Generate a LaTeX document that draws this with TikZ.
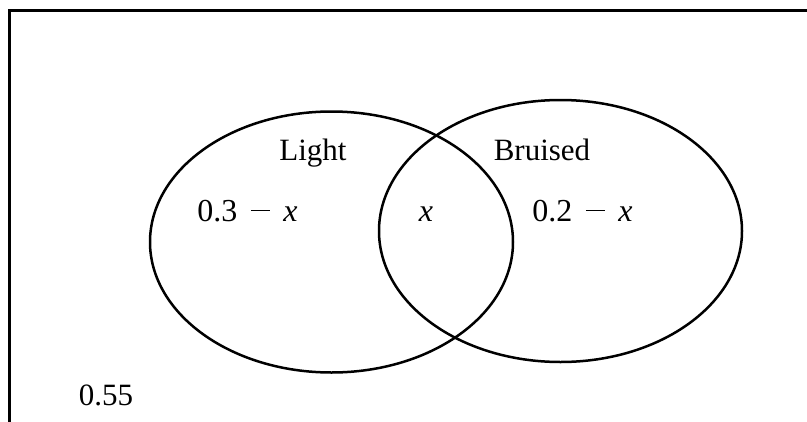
\documentclass[tikz,border=0pt]{standalone}
\usepackage{fontspec}
\setmainfont{Liberation Serif}
\usetikzlibrary{shapes.geometric}
\newcommand{\mminus}{\hspace{0.42em}\rule[0.3em]{0.6em}{0.055em}\hspace{0.42em}}
\begin{document}
\begin{tikzpicture}[x=1pt,y=-1pt,
  lbl/.style={anchor=base, inner sep=0pt, font=\fontsize{31}{36}\selectfont},
  mth/.style={anchor=base, inner sep=0pt, font=\fontsize{32}{36}\selectfont},
  venn/.style={ellipse, draw, line width=2.5pt, inner sep=0pt},
  frame/.style={line width=3pt}]
\useasboundingbox (0,0) rectangle (807,421);
\clip (0,0) rectangle (807,421);
\coordinate (fb) at (9,440);
\coordinate (fc) at (9,10);
\coordinate (fr) at (830,10);
\draw[frame] (fb) -- (fc) -- (fr);
\node[venn, minimum width=363pt, minimum height=261pt] (light) at (331.5,242) {};
\node[venn, minimum width=363pt, minimum height=262pt] (bruised) at (560.5,231) {};
\node[lbl] (tl) at (313,160) {Light};
\node[lbl] (tb) at (542,160) {Bruised};
\node[mth] (a) at (247.5,221) {0.3\mminus\textit{x}};
\node[mth] (b) at (426,221) {\textit{x}};
\node[mth] (c) at (582.5,221) {0.2\mminus\textit{x}};
\node[lbl] (d) at (106,405) {0.55};
\end{tikzpicture}
\end{document}
